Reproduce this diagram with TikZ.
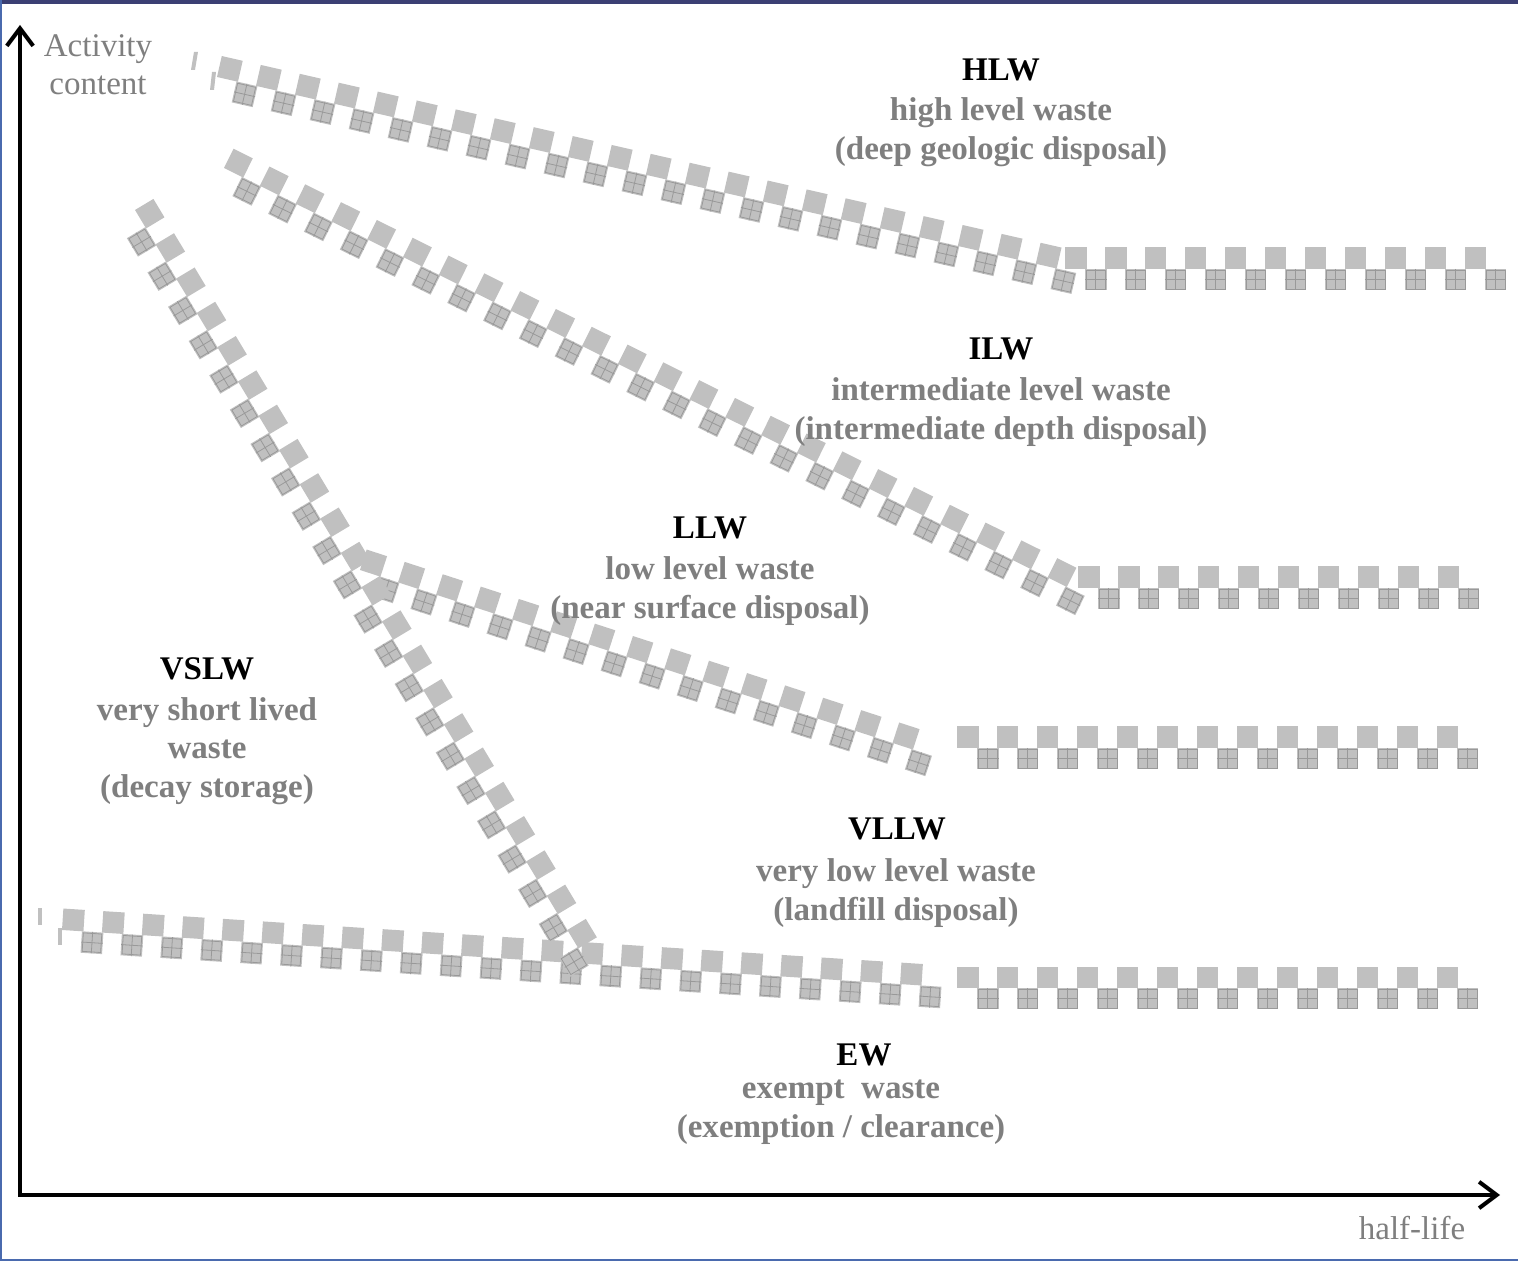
\documentclass[tikz,border=0pt]{standalone}
\usepackage{fontspec}
\setmainfont{Liberation Serif}
\usepackage{tikz}
\usetikzlibrary{arrows.meta}
\usetikzlibrary{decorations.markings}
\definecolor{squaregray}{HTML}{C0C0C0}
\definecolor{hatchgray}{HTML}{999999}
\definecolor{textgray}{HTML}{7F7F7F}
\definecolor{framenavy}{HTML}{3B3F73}
\definecolor{frameblue}{HTML}{4A6AAE}
% one plain square above the band line, one hatched square below it
\newcommand{\wastepair}{%
  \fill[squaregray] (0,0) rectangle (0.43cm,0.43cm);
  \fill[squaregray] (0.4cm,0) rectangle (0.83cm,-0.43cm);
  \draw[hatchgray,line width=0.45pt] (0.43cm,-0.03cm) rectangle (0.8cm,-0.4cm)
    (0.615cm,0) -- (0.615cm,-0.43cm) (0.4cm,-0.215cm) -- (0.83cm,-0.215cm);
}
\tikzset{
  band/.style={postaction={decorate},
    decoration={markings, mark=between positions 0 and -0.78cm step 0.8cm with {\wastepair}}},
  sliver/.style={fill=squaregray},
  axis/.style={black, line width=2.3pt, >={Straight Barb[length=10pt,width=15pt]}},
  classname/.style={font=\bfseries\fontsize{18.8}{22}\selectfont, text=black, inner sep=0},
  classtext/.style={font=\bfseries\fontsize{18.8}{22}\selectfont, text=textgray, align=center, inner sep=0},
  axislabel/.style={font=\fontsize{18.8}{21.5}\selectfont, text=textgray, align=center, inner sep=0}
}

\begin{document}
\begin{tikzpicture}[x=0.02cm, y=0.02cm]
\useasboundingbox (0,0) rectangle (1518,1261);
% frame
\fill[framenavy] (0,1257) rectangle (1518,1261);
\fill[frameblue] (0,0) rectangle (2,1261);
\fill[frameblue] (0,0) rectangle (1518,2);

% band end points
\coordinate (hlw a) at (217,1184);
\coordinate (hlw b) at (1085,986);
\coordinate (hlw c) at (1065,992);
\coordinate (hlw d) at (1506,992);
\coordinate (ilw a) at (224,1093);
\coordinate (ilw b) at (1085,665);
\coordinate (ilw c) at (1078,673);
\coordinate (ilw d) at (1478,673);
\coordinate (llw a) at (360,691);
\coordinate (llw b) at (945,501);
\coordinate (llw c) at (957,513);
\coordinate (llw d) at (1477,513);
\coordinate (vllw a) at (62,331);
\coordinate (vllw b) at (945,274);
\coordinate (vllw c) at (957,273);
\coordinate (vllw d) at (1477,273);
\coordinate (vslw a) at (135,1051);
\coordinate (vslw b) at (595,285);

\path[band] (hlw a) -- (hlw b);
\path[band] (hlw c) -- (hlw d);
\path[band] (ilw a) -- (ilw b);
\path[band] (ilw c) -- (ilw d);
\path[band] (llw a) -- (llw b);
\path[band] (llw c) -- (llw d);
\path[band] (vllw a) -- (vllw b);
\path[band] (vllw c) -- (vllw d);
\path[band] (vslw a) -- (vslw b);

% cut-off pieces at the band starts
\fill[sliver] (194,1209) -- (198,1209) -- (195,1191) -- (191,1191) -- cycle;
\fill[sliver] (212,1189) -- (216,1189) -- (214,1171) -- (210,1171) -- cycle;
\fill[sliver] (38,353) rectangle (42,336);
\fill[sliver] (58,333) rectangle (62,316);

% axes
\coordinate (origin) at (20,66);
\coordinate (ytip) at (20,1236);
\coordinate (xtip) at (1500,66);
\draw[axis, <->] (ytip) -- (origin) -- (xtip);
\node[axislabel] (activity) at (98,1196) {Activity\\content};
\node[axislabel] (halflife) at (1412,33) {half-life};

% classes
\node[classname] (hlw) at (1001,1191) {HLW};
\node[classtext] (hlw text) at (1001,1129) {high level waste\\(deep geologic disposal)};
\node[classname] (ilw) at (1001,912) {ILW};
\node[classtext] (ilw text) at (1001,849) {intermediate level waste\\(intermediate depth disposal)};
\node[classname] (llw) at (710,733) {LLW};
\node[classtext] (llw text) at (710,670) {low level waste\\(near surface disposal)};
\node[classname] (vslw) at (207,592) {VSLW};
\node[classtext] (vslw text) at (207,510) {very short lived\\waste\\(decay storage)};
\node[classname] (vllw) at (897,432) {VLLW};
\node[classtext] (vllw text) at (896,368) {very low level waste\\(landfill disposal)};
\node[classname] (ew) at (864,206) {EW};
\node[classtext] (ew text) at (841,149) {exempt\ \ waste\\(exemption / clearance)};
\end{tikzpicture}
\end{document}
